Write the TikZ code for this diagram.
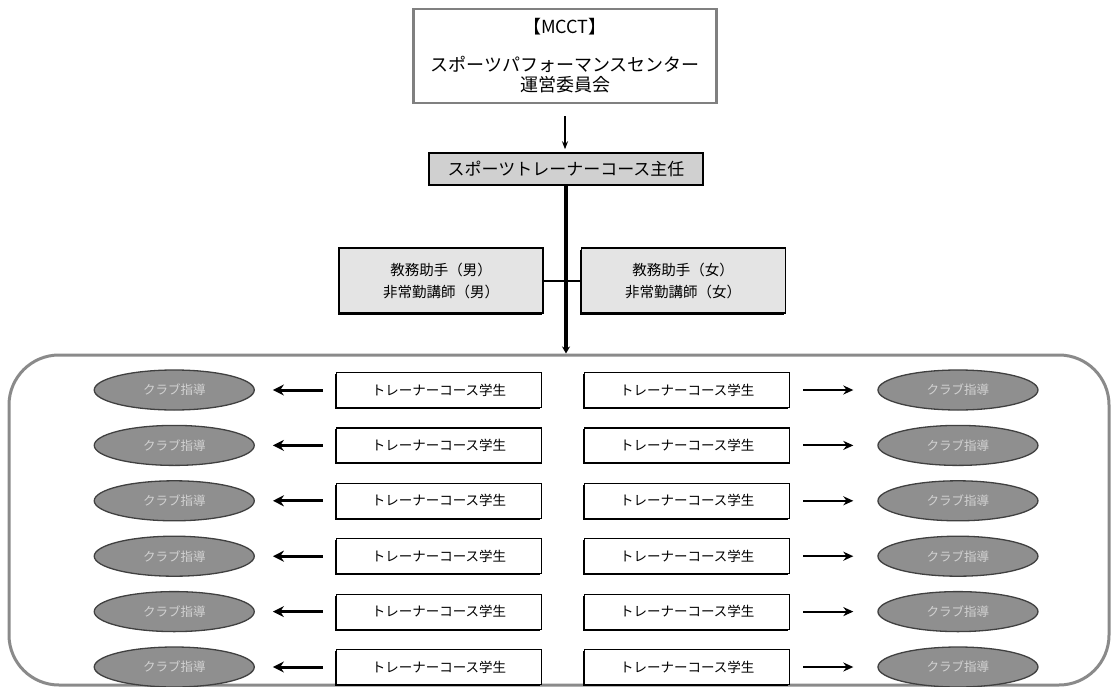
\documentclass[tikz,border=0pt]{standalone}
\usepackage{fontspec}
\setmainfont{Noto Sans CJK JP}
\usepackage{tikz}
\usetikzlibrary{arrows.meta,positioning,shapes.geometric,shadows}
\definecolor{framegray}{HTML}{8A8A8A}
\definecolor{clubfill}{HTML}{8F8F8F}
\definecolor{clubtext}{HTML}{D2D2D2}
\definecolor{chieffill}{HTML}{D0D0D0}
\definecolor{stafffill}{HTML}{E4E4E4}
\tikzset{
  topbox/.style={
    draw=black!50,
    line width=2.5pt,
    fill=white,
    align=center,
    minimum width=303pt,
    minimum height=94pt,
    inner sep=3pt,
    font=\fontsize{18}{20}\selectfont
  },
  chiefbox/.style={
    draw=black,
    line width=1.5pt,
    fill=chieffill,
    align=center,
    minimum width=274pt,
    minimum height=32pt,
    inner sep=2pt,
    font=\fontsize{17}{19}\selectfont
  },
  staffbox/.style={
    draw=black,
    line width=1.2pt,
    fill=stafffill,
    align=center,
    minimum width=204pt,
    minimum height=65pt,
    inner sep=3pt,
    font=\fontsize{14.5}{22}\selectfont,
    drop shadow={shadow xshift=-1.5pt,shadow yshift=-1.5pt,fill=black,opacity=1}
  },
  studentbox/.style={
    draw=black,
    line width=1.2pt,
    fill=white,
    align=center,
    minimum width=205pt,
    minimum height=35pt,
    inner sep=2pt,
    font=\fontsize{13.5}{15}\selectfont,
    drop shadow={shadow xshift=-1.5pt,shadow yshift=-1.5pt,fill=black,opacity=1}
  },
  clubnode/.style={
    ellipse,
    draw=black!75,
    line width=1.3pt,
    fill=clubfill,
    text=clubtext,
    minimum width=160pt,
    minimum height=40pt,
    inner sep=0pt,
    font=\fontsize{12.5}{14}\selectfont
  },
  framebox/.style={
    draw=framegray,
    line width=3pt,
    rounded corners=50pt,
    minimum width=1100pt,
    minimum height=330pt
  },
  downflow/.style={-{Stealth[length=8pt,width=6pt]},line width=1.2pt,draw=black,shorten <=12pt,shorten >=3pt},
  mainline/.style={-{Stealth[length=7pt,width=8pt]},line width=4pt,draw=black},
  linkline/.style={line width=2pt,draw=black},
  clubflowl/.style={-{Stealth[length=11pt,width=11pt]},line width=3pt,draw=black,shorten <=13pt,shorten >=18pt},
  clubflowr/.style={-{Stealth[length=10pt,width=9pt]},line width=2pt,draw=black,shorten <=13pt,shorten >=24pt}
}
\begin{document}
\begin{tikzpicture}[x=1pt,y=-1pt]
  \useasboundingbox (0,0) rectangle (1115,687);
  \node[framebox] (frame) at (559,520) {};
  \node[topbox] (mcct) at (565,56) {【MCCT】\\[18pt]スポーツパフォーマンスセンター\\運営委員会};
  \node[chiefbox] (chief) at (566,169) {スポーツトレーナーコース主任};
  \node[staffbox] (staffm) at (441,280.5) {教務助手（男）\\非常勤講師（男）};
  \node[staffbox,right=37pt of staffm] (stafff) {教務助手（女）\\非常勤講師（女）};
  \draw[downflow] (mcct) -- (mcct |- chief.north);
  \draw[linkline] (staffm) -- (stafff);
  \draw[mainline] (chief.south) -- (chief.south |- frame.north);
  % rows of students
  \node[studentbox] (stul1) at (439,390) {トレーナーコース学生};
  \node[studentbox,below=19.2pt of stul1] (stul2) {トレーナーコース学生};
  \node[studentbox,below=19.2pt of stul2] (stul3) {トレーナーコース学生};
  \node[studentbox,below=19.2pt of stul3] (stul4) {トレーナーコース学生};
  \node[studentbox,below=19.2pt of stul4] (stul5) {トレーナーコース学生};
  \node[studentbox,below=19.2pt of stul5] (stul6) {トレーナーコース学生};
  \node[studentbox,right=42pt of stul1] (stur1) {トレーナーコース学生};
  \node[studentbox,right=42pt of stul2] (stur2) {トレーナーコース学生};
  \node[studentbox,right=42pt of stul3] (stur3) {トレーナーコース学生};
  \node[studentbox,right=42pt of stul4] (stur4) {トレーナーコース学生};
  \node[studentbox,right=42pt of stul5] (stur5) {トレーナーコース学生};
  \node[studentbox,right=42pt of stul6] (stur6) {トレーナーコース学生};
  % club activities
  \node[clubnode,left=81pt of stul1] (clubl1) {クラブ指導};
  \node[clubnode,left=81pt of stul2] (clubl2) {クラブ指導};
  \node[clubnode,left=81pt of stul3] (clubl3) {クラブ指導};
  \node[clubnode,left=81pt of stul4] (clubl4) {クラブ指導};
  \node[clubnode,left=81pt of stul5] (clubl5) {クラブ指導};
  \node[clubnode,left=81pt of stul6] (clubl6) {クラブ指導};
  \node[clubnode,right=87pt of stur1] (clubr1) {クラブ指導};
  \node[clubnode,right=87pt of stur2] (clubr2) {クラブ指導};
  \node[clubnode,right=87pt of stur3] (clubr3) {クラブ指導};
  \node[clubnode,right=87pt of stur4] (clubr4) {クラブ指導};
  \node[clubnode,right=87pt of stur5] (clubr5) {クラブ指導};
  \node[clubnode,right=87pt of stur6] (clubr6) {クラブ指導};
  \draw[clubflowl] (stul1) -- (clubl1);
  \draw[clubflowl] (stul2) -- (clubl2);
  \draw[clubflowl] (stul3) -- (clubl3);
  \draw[clubflowl] (stul4) -- (clubl4);
  \draw[clubflowl] (stul5) -- (clubl5);
  \draw[clubflowl] (stul6) -- (clubl6);
  \draw[clubflowr] (stur1) -- (clubr1);
  \draw[clubflowr] (stur2) -- (clubr2);
  \draw[clubflowr] (stur3) -- (clubr3);
  \draw[clubflowr] (stur4) -- (clubr4);
  \draw[clubflowr] (stur5) -- (clubr5);
  \draw[clubflowr] (stur6) -- (clubr6);
\end{tikzpicture}
\end{document}
